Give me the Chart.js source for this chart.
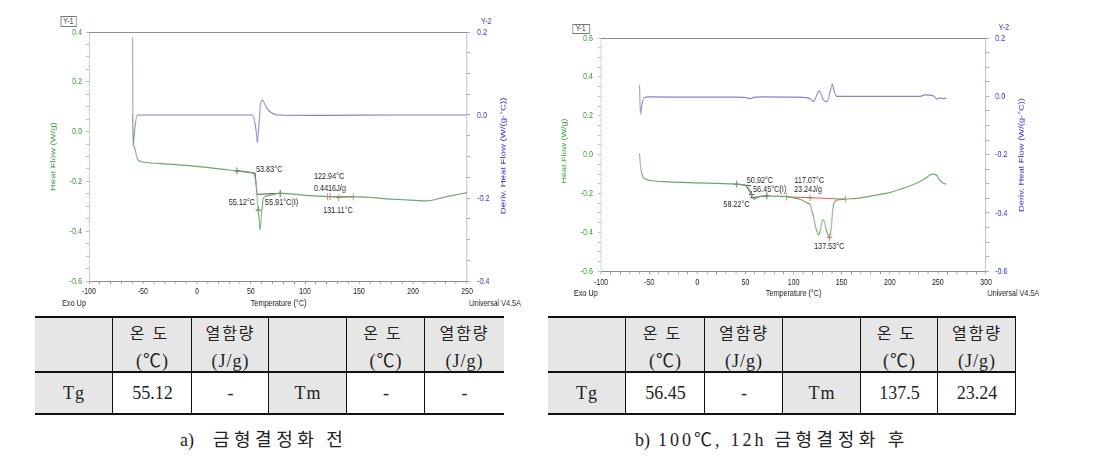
<!DOCTYPE html>
<html lang="ko">
<head>
<meta charset="utf-8">
<title>DSC</title>
<script src="https://cdn.jsdelivr.net/npm/chart.js@4.4.1/dist/chart.umd.min.js"></script>
<style>
  html, body { margin: 0; padding: 0; background: #fff; }
  #page { position: relative; width: 1093px; height: 475px; overflow: hidden; background: #fff; }
  canvas.dsc { position: absolute; top: 0; height: 310px; }
  .cell { position: absolute; box-sizing: border-box; text-align: center; color: #222;
          font-family: "Liberation Serif", "Noto Sans CJK KR", serif; font-size: 18px; }
  .hd { line-height: 28px; }
  .dt { line-height: 40px; }
  .ko { font-family: "Noto Sans CJK KR", sans-serif; font-size: 16px; }
  .rule { position: absolute; background: #111; }
  .cap { position: absolute; top: 426px; line-height: 24px; white-space: nowrap; color: #222;
         font-family: "Liberation Serif", "Noto Sans CJK KR", serif; font-size: 18px; word-spacing: 3.5px; }
  .cap .hg { font-family: "Noto Sans CJK KR", sans-serif; font-size: 18px; letter-spacing: 4.5px; }
  .cap .lt { letter-spacing: 3px; }
</style>
</head>
<body>
<div id="page">
  <canvas id="dscA" class="dsc"></canvas>
  <canvas id="dscB" class="dsc"></canvas>
</div>
<script>
// ============================================================================
// Data
// ============================================================================

// a) before mould crystallisation: heat flow (W/g) and derivative (W/(g·°C))
const hfTempA = [-59.6, -59.4, -59.0, -58, -57, -56, -55, -54, -52, -50,
  -25, 0, 25, 37, 45, 51, 53, 54, 55, 55.8,
  56.8, 57.6, 58.3, 59, 59.9, 61.4, 64.5, 70, 77, 100,
  121, 131, 150, 175, 197, 213, 230, 250];
const hfValA = [0.07, -0.01, -0.046, -0.062, -0.078, -0.098, -0.11, -0.116, -0.12, -0.122,
  -0.131, -0.14, -0.152, -0.158, -0.161, -0.166, -0.172, -0.19, -0.235, -0.27,
  -0.315, -0.36, -0.395, -0.37, -0.327, -0.267, -0.259, -0.252, -0.248, -0.256,
  -0.261, -0.263, -0.262, -0.27, -0.275, -0.278, -0.262, -0.245];
const dTempA = [-59.8, -59.6, -59.5, -59.3, -59.0, -58.5, -57.5, -56.5, -55, 0,
  51, 53, 54.5, 55.8, 57, 58.5, 60.5, 62.5, 65, 70,
  75, 120, 180, 250];
const dValA = [0.187, 0.1, 0.02, -0.04, -0.072, -0.06, -0.03, -0.01, 0.0, 0.0,
  0.0, -0.01, -0.035, -0.067, -0.035, 0.02, 0.036, 0.028, 0.015, 0.004,
  0.0, -0.001, 0.0, 0.0];

// b) after 100°C, 12h mould crystallisation
const hfTempB = [-60.2, -59.5, -58.8, -57.7, -56.5, -55, -52, -49, -30, 0,
  20, 41, 47, 51.4, 55.6, 58.3, 61, 65.4, 72.3, 80,
  93, 100, 108, 114, 117.3, 120.7, 122.5, 124.2, 125.9, 127.5,
  129, 130.5, 132, 134, 135.5, 137, 138.5, 140, 141.5, 143.5,
  147, 153.7, 170, 186.6, 200, 214.3, 224, 231.6, 238, 243.8,
  248.2, 252.4, 255, 258.6];
const hfValB = [0.008, -0.03, -0.06, -0.095, -0.113, -0.122, -0.13, -0.133, -0.14, -0.145,
  -0.148, -0.152, -0.156, -0.164, -0.19, -0.229, -0.224, -0.215, -0.212, -0.213,
  -0.216, -0.222, -0.232, -0.248, -0.258, -0.32, -0.36, -0.395, -0.413, -0.395,
  -0.355, -0.336, -0.345, -0.385, -0.41, -0.425, -0.4, -0.33, -0.26, -0.238,
  -0.232, -0.229, -0.222, -0.207, -0.195, -0.172, -0.155, -0.138, -0.118, -0.1,
  -0.104, -0.133, -0.145, -0.152];
const dTempB = [-60.2, -59.8, -58.8, -58, -57, -55, -50, 0, 40, 50,
  55, 60, 70, 100, 115, 118, 120.7, 123, 125, 126.9,
  129, 131, 134.6, 137, 139, 140.5, 142, 145, 180, 231.6,
  236.8, 242, 246, 249, 252, 255, 258.6];
const dValB = [0.04, 0.0, -0.061, -0.04, -0.02, -0.004, -0.002, -0.003, -0.003, -0.004,
  -0.008, -0.003, -0.002, -0.003, -0.005, -0.01, -0.018, -0.005, 0.012, 0.019,
  0.005, -0.012, -0.018, 0.0, 0.03, 0.043, 0.02, 0.0, 0.0, 0.0,
  0.005, 0.004, 0.0, -0.009, -0.005, -0.008, -0.006];

// analysis marks: tangents [x1, y1, x2, y2], crosses [x, y], baselines
const tangentsA = [[37, -0.158, 53.8, -0.167], [53.8, -0.165, 55.6, -0.255], [55.1, -0.252, 77, -0.248]];
const crossesA = [[37, -0.158], [56.8, -0.315], [77, -0.248]];
const baselineA = [122.2, -0.261, 145, -0.262];
const baseTicksA = [[120.7, -0.261], [123.2, -0.261], [144.7, -0.262]];
const baseCrossA = [[131.1, -0.265]];

const tangentsB = [[41, -0.152, 56, -0.160], [50.5, -0.158, 58.5, -0.228], [55, -0.222, 72.3, -0.212]];
const crossesB = [[41, -0.152], [56.45, -0.205], [72.3, -0.212]];
const baselineB = [93, -0.217, 153.7, -0.229];
const baseTicksB = [[93, -0.217], [153.7, -0.229]];
const baseCrossB = [[117.07, -0.221], [137.53, -0.425]];

// annotation text: [text, temperature, heat flow, align]
const notesA = [
  ['53.83°C', 54.6, -0.150, 'left'],
  ['55.12°C', 53.7, -0.283, 'right'],
  ['55.91°C(I)', 63, -0.283, 'left'],
  ['122.94°C', 108.3, -0.182, 'left'],
  ['0.4416J/g', 108.3, -0.230, 'left'],
  ['131.11°C', 116.7, -0.315, 'left']
];
const notesB = [
  ['50.92°C', 51.5, -0.135, 'left'],
  ['56.45°C(I)', 58, -0.181, 'left'],
  ['58.22°C', 27.1, -0.255, 'left'],
  ['117.07°C', 100.9, -0.135, 'left'],
  ['23.24J/g', 100.6, -0.181, 'left'],
  ['137.53°C', 121.4, -0.473, 'left']
];

// tables under the charts
const tableHead = ['', '온도|(℃)', '열함량|(J/g)', '', '온도|(℃)', '열함량|(J/g)'];
const tableRowA = ['Tg', '55.12', '-', 'Tm', '-', '-'];
const tableRowB = ['Tg', '56.45', '-', 'Tm', '137.5', '23.24'];
const captionA = 'a) 금형결정화 전';
const captionB = 'b) 100℃, 12h 금형결정화 후';

// ============================================================================
// Styling
// ============================================================================

const SX = 0.78;   // the scanned plots are squeezed horizontally
const FONT_STACK = '"Liberation Sans", Arial, sans-serif';
const GREEN_LINE = '#68a868';
const BLUE_LINE = '#8484c2';
const GREEN_TEXT = '#2f9a2f';
const BLUE_TEXT = '#3434c8';
const MARK_DARK = '#505050';
const MARK_RED = '#d06060';
const CELL_GRAY = '#e6e6e6';

Chart.defaults.font.family = FONT_STACK;

const font = s => `${s}px ${FONT_STACK}`;
const zip = (xs, ys) => xs.map((x, i) => ({ x, y: ys[i] }));
const isMajor = (v, step) => Math.abs(v / step - Math.round(v / step)) < 1e-6;

function curve(xs, ys, axis, color) {
  return {
    data: zip(xs, ys), yAxisID: axis, showLine: true, borderColor: color,
    borderWidth: 1.2, pointRadius: 0, cubicInterpolationMode: 'monotone'
  };
}

function segment(s, color) {
  return {
    data: [{ x: s[0], y: s[1] }, { x: s[2], y: s[3] }], yAxisID: 'yL', showLine: true,
    borderColor: color, borderWidth: 1, pointRadius: 0
  };
}

function marks(pts, color, style, rot) {
  return {
    data: pts.map(p => ({ x: p[0], y: p[1] })), yAxisID: 'yL', showLine: false,
    pointStyle: style, pointRotation: rot || 0, pointRadius: 3.5,
    borderColor: color, backgroundColor: color, borderWidth: 1
  };
}

// texts and boxes placed in display pixels of the canvas
function makeDecor(L, sx) {
  return {
    id: 'decor',
    afterDraw(chart) {
      const { ctx, chartArea: a, scales } = chart;
      const ix = v => v / sx;
      ctx.save();

      // frame line across the top of the plot
      ctx.strokeStyle = '#8c8c8c';
      ctx.lineWidth = 1;
      ctx.beginPath();
      ctx.moveTo(a.left, Math.round(a.top) + 0.5);
      ctx.lineTo(a.right, Math.round(a.top) + 0.5);
      ctx.stroke();

      // analysis labels, anchored in data units
      ctx.fillStyle = '#222';
      ctx.textBaseline = 'middle';
      ctx.font = font(9.3);
      L.notes.forEach(n => {
        ctx.textAlign = n[3];
        ctx.fillText(n[0], scales.x.getPixelForValue(n[1]), scales.yL.getPixelForValue(n[2]));
      });

      // "Y-1" box
      ctx.strokeStyle = '#777';
      ctx.strokeRect(ix(L.yBox[0]) + 0.5, L.yBox[1] + 0.5, ix(L.yBox[2]), L.yBox[3]);

      L.texts.forEach(t => {
        ctx.save();
        ctx.translate(ix(t.x), t.y);
        if (t.rot) ctx.rotate(t.rot * Math.PI / 180);
        ctx.font = font(t.size || 9.3);
        ctx.fillStyle = t.color || '#222';
        ctx.textAlign = 'center';
        ctx.textBaseline = 'middle';
        ctx.fillText(t.text, 0, 0);
        ctx.restore();
      });
      ctx.restore();
    }
  };
}

// ============================================================================
// Charts
// ============================================================================

function drawDsc(id, L, datasets) {
  const cv = document.getElementById(id);
  cv.width = Math.round(L.dispW / SX);
  cv.height = 310;
  cv.style.left = L.offset + 'px';
  cv.style.width = L.dispW + 'px';
  const sx = L.dispW / cv.width;
  const ix = v => v / sx;
  const TL = 4;

  const yScale = (pos, range, textColor, lineColor, gap, widthFn) => ({
    type: 'linear', position: pos, min: range[0], max: range[1],
    ticks: {
      stepSize: 0.05, autoSkip: false, maxTicksLimit: 1000, color: textColor,
      font: { size: 9.3 }, padding: ix(gap) - TL,
      callback: v => isMajor(v, 0.2) ? (Math.round(v * 10) / 10).toFixed(1) : ''
    },
    grid: { drawOnChartArea: false, drawTicks: true, tickLength: TL, tickColor: lineColor },
    border: { display: true, color: lineColor, width: 1 },
    title: { display: false },
    afterFit: s => { s.width = widthFn(); }
  });

  return new Chart(cv, {
    type: 'scatter',
    data: { datasets },
    options: {
      responsive: false,
      animation: false,
      devicePixelRatio: 1,
      layout: { padding: { top: L.top, left: 0, right: 0, bottom: 0 } },
      plugins: { legend: { display: false }, tooltip: { enabled: false } },
      scales: {
        x: {
          type: 'linear', min: L.xRange[0], max: L.xRange[1],
          ticks: {
            stepSize: 10, autoSkip: false, maxTicksLimit: 1000, maxRotation: 0,
            color: '#222', font: { size: 9 }, padding: 2.5,
            callback: v => isMajor(v, 50) ? String(Math.round(v)) : ''
          },
          grid: { drawOnChartArea: false, drawTicks: true, tickLength: 3, tickColor: '#8c8c8c' },
          border: { display: true, color: '#8c8c8c', width: 1 },
          afterFit: s => { s.height = 310 - L.bottom; }
        },
        yL: yScale('left', L.yL, GREEN_TEXT, '#a8d2a8', L.gapL, () => ix(L.left)),
        yR: yScale('right', L.yR, BLUE_TEXT, '#a8a8d4', L.gapR, () => cv.width - ix(L.right))
      }
    },
    plugins: [makeDecor(L, sx)]
  });
}

function datasetsFor(hfT, hfV, dT, dV, tangents, crosses, base, baseTicks, baseCross) {
  return [
    curve(hfT, hfV, 'yL', GREEN_LINE),
    curve(dT, dV, 'yR', BLUE_LINE),
    ...tangents.map(s => segment(s, MARK_DARK)),
    marks(crosses, MARK_DARK, 'cross'),
    segment(base, MARK_RED),
    marks(baseTicks, MARK_RED, 'line', 90),
    marks(baseCross, MARK_RED, 'cross')
  ];
}

const layoutA = {
  offset: 0, dispW: 546, left: 89, right: 467, top: 32, bottom: 281,
  xRange: [-100, 250], yL: [-0.6, 0.4], yR: [-0.4, 0.2], gapL: 7, gapR: 10,
  notes: notesA, yBox: [60.5, 16, 15.5, 10],
  texts: [
    { text: 'Y-1', x: 68.3, y: 21.3, color: '#444', size: 9 },
    { text: 'Y-2', x: 486.3, y: 21.5, color: BLUE_TEXT },
    { text: 'Exo Up', x: 74, y: 303.3 },
    { text: 'Temperature (°C)', x: 278.5, y: 303.3 },
    { text: 'Universal V4.5A', x: 495, y: 303.3 },
    { text: 'Heat Flow (W/g)', x: 53.3, y: 156.7, rot: -90, color: '#3aa03a', size: 9.5 },
    { text: 'Deriv. Heat Flow (W/(g·°C))', x: 503, y: 156, rot: -90, color: '#2a2ad8', size: 9.6 }
  ]
};

const layoutB = {
  offset: 546, dispW: 547, left: 55, right: 440, top: 38, bottom: 271.3,
  xRange: [-100, 300], yL: [-0.6, 0.6], yR: [-0.6, 0.2], gapL: 8, gapR: 9,
  notes: notesB, yBox: [26.3, 24, 16.7, 9],
  texts: [
    { text: 'Y-1', x: 34.7, y: 28.6, color: '#444', size: 9 },
    { text: 'Y-2', x: 457.8, y: 27.3, color: BLUE_TEXT },
    { text: 'Exo Up', x: 39.8, y: 293.3 },
    { text: 'Temperature (°C)', x: 247.5, y: 293.3 },
    { text: 'Universal V4.5A', x: 467.3, y: 293.3 },
    { text: 'Heat Flow (W/g)', x: 18, y: 151, rot: -90, color: '#3aa03a', size: 9 },
    { text: 'Deriv. Heat Flow (W/(g·°C))', x: 475.5, y: 155, rot: -90, color: '#2a2ad8', size: 9.4 }
  ]
};

drawDsc('dscA', layoutA, datasetsFor(hfTempA, hfValA, dTempA, dValA,
  tangentsA, crossesA, baselineA, baseTicksA, baseCrossA));
drawDsc('dscB', layoutB, datasetsFor(hfTempB, hfValB, dTempB, dValB,
  tangentsB, crossesB, baselineB, baseTicksB, baseCrossB));

// ============================================================================
// Tables and captions
// ============================================================================

function addDiv(cls, css, html) {
  const d = document.createElement('div');
  d.className = cls;
  Object.assign(d.style, css);
  if (html !== undefined) d.innerHTML = html;
  document.getElementById('page').appendChild(d);
  return d;
}

function buildTable(left, colW, head, row, rightEdge) {
  const total = colW.reduce((a, b) => a + b, 0);
  let x = left;
  colW.forEach((w, i) => {
    const parts = head[i] ? head[i].split('|') : null;
    const ls = parts && parts[0].length === 2 ? '8px' : '2px';
    const hdHtml = parts
      ? `<span class="ko" style="letter-spacing:${ls}">${parts[0]}</span><br><span style="letter-spacing:1px">${parts[1]}</span>`
      : '';
    addDiv('cell hd', { left: x + 'px', top: '318px', width: w + 'px', height: '53px', background: CELL_GRAY }, hdHtml);
    const gray = i === 0 || i === 3;
    addDiv('cell dt', {
      left: x + 'px', top: '373px', width: w + 'px', height: '40px',
      background: gray ? CELL_GRAY : '#fff', letterSpacing: gray ? '1px' : '0'
    }, row[i]);
    x += w;
    if (i < colW.length - 1 || rightEdge) {
      addDiv('rule', { left: (x - 1) + 'px', top: '318px', width: '1px', height: '95px' });
    }
  });
  [316, 371, 413].forEach(y => {
    addDiv('rule', { left: left + 'px', top: y + 'px', width: total + 'px', height: '2px' });
  });
}

// caption: first token tight, hangul words letter-spaced
function buildCaption(text, left, firstGap) {
  const tokens = text.split(' ');
  const html = tokens.map((tk, i) => {
    const cls = /[\uAC00-\uD7A3]/.test(tk) ? 'hg' : (i === 0 ? '' : 'lt');
    const gap = i === 0 ? `margin-right:${firstGap}px;` : '';
    return `<span class="${cls}" style="${gap}">${tk}</span>`;
  }).join(' ');
  addDiv('cap', { left: left + 'px' }, html);
}

buildTable(35, [78, 79, 77, 78, 78, 79], tableHead, tableRowA, false);
buildTable(548, [78, 79, 78, 78, 77, 78], tableHead, tableRowB, true);
buildCaption(captionA, 180, 11);
buildCaption(captionB, 635, 0);
</script>
</body>
</html>
